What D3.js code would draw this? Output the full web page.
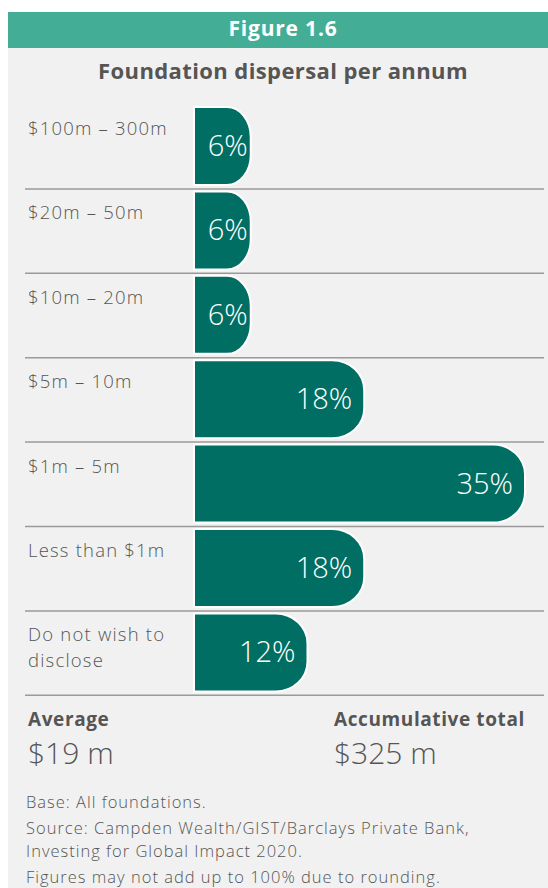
<!DOCTYPE html>
<html>
<head>
<meta charset="utf-8">
<script src="https://cdn.jsdelivr.net/npm/d3@7"></script>
<style>
  html, body { margin: 0; padding: 0; background: #ffffff; }
  svg { display: block; font-family: "Open Sans", "Lato", sans-serif; }
</style>
</head>
<body>
<svg id="chart" width="548" height="888"></svg>
<script>
// Disbursal bands and share of foundations in each (%)
const categories = [
  ["$100m – 300m"],
  ["$20m – 50m"],
  ["$10m – 20m"],
  ["$5m – 10m"],
  ["$1m – 5m"],
  ["Less than $1m"],
  ["Do not wish to", "disclose"]
];
const shares = [6, 6, 6, 18, 35, 18, 12];
const valueLabels = ["6%", "6%", "6%", "18%", "35%", "18%", "12%"];

const figureTitle = "Figure 1.6";
const chartTitle = "Foundation dispersal per annum";
const summaryHeads = ["Average", "Accumulative total"];
const summaryValues = ["$19 m", "$325 m"];
const notes = [
  "Base: All foundations.",
  "Source: Campden Wealth/GIST/Barclays Private Bank,",
  "Investing for Global Impact 2020.",
  "Figures may not add up to 100% due to rounding."
];

const svg = d3.select("#chart");
const W = 548;
const ink = "#555555";
const barFill = "#006e62";

// panel + header band
svg.append("rect").attr("x", 8).attr("y", 47).attr("width", W - 8).attr("height", 888 - 47).attr("fill", "#f1f1f1");
svg.append("rect").attr("x", 8).attr("y", 12).attr("width", W - 8).attr("height", 36).attr("fill", "#43ad96");
svg.append("text").attr("x", 283).attr("y", 36).attr("text-anchor", "middle")
  .attr("fill", "#ffffff").attr("font-weight", 700).attr("font-size", 21)
  .attr("letter-spacing", 0.8).text(figureTitle);
svg.append("text").attr("x", 283).attr("y", 79).attr("text-anchor", "middle")
  .attr("fill", ink).attr("font-weight", 700).attr("font-size", 22)
  .attr("letter-spacing", 0.4).text(chartTitle);

// scales
const idx = d3.range(categories.length);
const y = d3.scaleBand().domain(idx).range([103, 103 + 84.4 * categories.length]).paddingInner(0).paddingOuter(0);
const x = d3.scaleLinear().domain([0, 35]).range([194, 525]);

// row separators
svg.append("g").selectAll("line").data(idx).join("line")
  .attr("x1", 25).attr("x2", 544)
  .attr("y1", d => y(d) + y.bandwidth() + 1.5)
  .attr("y2", d => y(d) + y.bandwidth() + 1.5)
  .attr("stroke", "#9a9a9a").attr("stroke-width", 1.5);

// bar with a rounded right end
function barPath(x0, x1, top, h) {
  const w = x1 - x0;
  const rx = Math.min(32, w * 0.42);
  const ry = 30;
  return `M${x0},${top}H${x1 - rx}` +
    `A${rx},${ry} 0 0 1 ${x1},${top + ry}` +
    `V${top + h - ry}` +
    `A${rx},${ry} 0 0 1 ${x1 - rx},${top + h}` +
    `H${x0}Z`;
}

const rows = svg.append("g").selectAll("g").data(idx).join("g");

rows.append("path")
  .attr("d", i => barPath(x(0), x(shares[i]), y(i) + 4, 78))
  .attr("fill", barFill).attr("stroke", "#ffffff").attr("stroke-width", 2);

rows.append("text")
  .attr("x", i => x(shares[i]) - (shares[i] < 10 ? 3 : 12))
  .attr("y", i => y(i) + 4 + 39 + 10)
  .attr("text-anchor", "end")
  .attr("fill", "#ffffff").attr("font-weight", 300).attr("font-size", 29)
  .text(i => valueLabels[i]);

rows.append("text")
  .attr("fill", ink).attr("font-weight", 300).attr("font-size", 18.5)
  .attr("letter-spacing", 1.2)
  .selectAll("tspan").data(i => categories[i].map((t, k) => ({ t, k, i }))).join("tspan")
  .attr("x", 28)
  .attr("y", d => y(d.i) + 32 + d.k * 25.5)
  .text(d => d.t);

// summary figures
const sumX = [28, 334];
summaryHeads.forEach((h, k) => {
  svg.append("text").attr("x", sumX[k]).attr("y", 726)
    .attr("fill", ink).attr("font-weight", 700).attr("font-size", 19)
    .attr("letter-spacing", 0.6).text(h);
  svg.append("text").attr("x", sumX[k]).attr("y", 764)
    .attr("fill", ink).attr("font-weight", 300).attr("font-size", 30).text(summaryValues[k]);
});

// notes
const noteY = [808, 834, 857, 883];
notes.forEach((n, k) => {
  svg.append("text").attr("x", 26).attr("y", noteY[k])
    .attr("fill", ink).attr("font-weight", 300).attr("font-size", 16.5)
    .attr("letter-spacing", 1.0).text(n);
});
</script>
</body>
</html>
